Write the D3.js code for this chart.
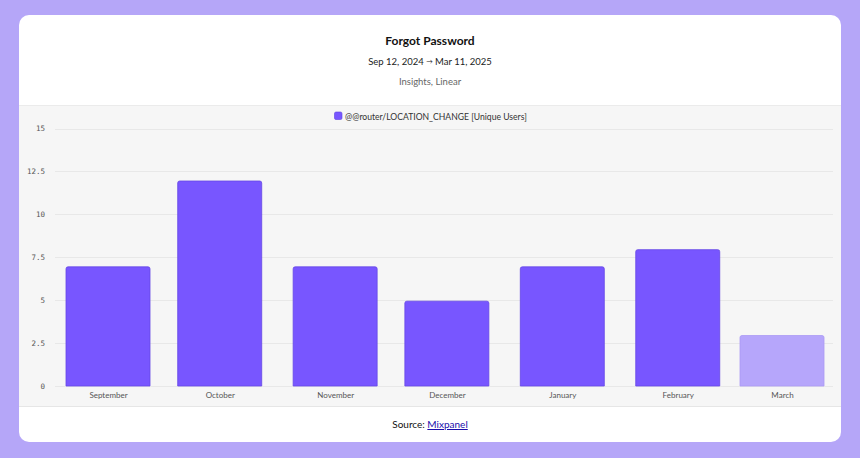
<!DOCTYPE html>
<html><head><meta charset="utf-8">
<script src="https://cdn.jsdelivr.net/npm/d3@7"></script>
<style>
html,body{margin:0;padding:0;background:#b5a6f8;}
svg{display:block;}
</style></head>
<body>
<svg id="chart" width="860" height="458"></svg>
<script>
const categories = ["September","October","November","December","January","February","March"];
const monthStarts = ["2024-09-01","2024-10-01","2024-11-01","2024-12-01","2025-01-01","2025-02-01","2025-03-01"];
const uniqueUsers = [7, 12, 7, 5, 7, 8, 3];
const partial = [false, false, false, false, false, false, true];
const yTicks = [0, 2.5, 5, 7.5, 10, 12.5, 15];
const title = "Forgot Password";
const dateFrom = "Sep 12, 2024";
const dateTo = "Mar 11, 2025";
const subtitle = "Insights, Linear";
const seriesName = "@@router/LOCATION_CHANGE [Unique Users]";

const svg = d3.select("#chart");
const W = 860, H = 458;
svg.append("rect").attr("width", W).attr("height", H).attr("fill", "#b5a6f8");

// card
const card = {x: 19, y: 15, w: 822, h: 427};
svg.append("rect").attr("x", card.x).attr("y", card.y).attr("width", card.w).attr("height", card.h)
  .attr("rx", 10).attr("fill", "#ffffff");
// plot band
svg.append("rect").attr("x", card.x).attr("y", 105).attr("width", card.w).attr("height", 302).attr("fill", "#f6f6f6");
svg.append("line").attr("x1", card.x).attr("x2", card.x + card.w).attr("y1", 105.5).attr("y2", 105.5).attr("stroke", "#ebebeb");
svg.append("line").attr("x1", card.x).attr("x2", card.x + card.w).attr("y1", 406.5).attr("y2", 406.5).attr("stroke", "#e6e6e6");

const font = "Lato, 'Noto Sans', sans-serif";
svg.append("text").attr("x", 430).attr("y", 44.5).attr("text-anchor", "middle")
  .attr("font-family", font).attr("font-size", 12).attr("font-weight", 700).attr("fill", "#111").text(title);
const dr = svg.append("text").attr("x", 430).attr("y", 64.5).attr("text-anchor", "middle")
  .attr("font-family", font).attr("font-size", 9.5).attr("fill", "#222");
dr.append("tspan").text(dateFrom + " ");
dr.append("tspan").attr("font-size", 6.5).attr("dy", -0.5).text("\u2192");
dr.append("tspan").attr("dy", 0.5).text(" " + dateTo);
svg.append("text").attr("x", 430).attr("y", 84.5).attr("text-anchor", "middle")
  .attr("font-family", font).attr("font-size", 9.5).attr("fill", "#666").text(subtitle);

// legend
const leg = svg.append("g");
leg.append("text").attr("x", 345).attr("y", 119.5)
  .attr("font-family", font).attr("font-size", 8.6).attr("fill", "#333").text(seriesName);
leg.append("rect").attr("x", 334.5).attr("y", 112).attr("width", 7.5).attr("height", 7.5).attr("rx", 1.5)
  .attr("fill", "#7856ff").attr("stroke", "#5b3fe0").attr("stroke-width", 0.6);

// scales
const parse = d3.timeParse("%Y-%m-%d");
const dates = monthStarts.map(parse);
const x = d3.scaleTime().domain([dates[0], dates[dates.length - 1]]).range([108, 782]);
const y = d3.scaleLinear().domain([0, 15]).range([386, 128.5]);
const barW = 84;

// grid
svg.append("g").selectAll("line").data(yTicks).join("line")
  .attr("x1", 55).attr("x2", 833)
  .attr("y1", d => Math.round(y(d)) + 0.5).attr("y2", d => Math.round(y(d)) + 0.5)
  .attr("stroke", "#e8e8e8").attr("stroke-width", 1);

// y axis labels
const yAxis = d3.axisLeft(y).tickValues(yTicks).tickSize(0).tickPadding(0).tickFormat(d => String(d));
const yg = svg.append("g").attr("transform", "translate(45,0)").call(yAxis);
yg.select(".domain").remove();
yg.selectAll("text").attr("font-family", "'DejaVu Sans Mono', monospace").attr("font-size", 7.5).attr("fill", "#555").attr("dy", "0.32em");

// bars
const data = categories.map((c, i) => ({c, d: dates[i], v: uniqueUsers[i], p: partial[i]}));
const topR = 2;
function barPath(d) {
  const x0 = x(d.d) - barW / 2, x1 = x0 + barW, y0 = y(d.v) + 1, yb = y(0);
  return `M${x0},${yb}V${y0 + topR}Q${x0},${y0} ${x0 + topR},${y0}H${x1 - topR}Q${x1},${y0} ${x1},${y0 + topR}V${yb}Z`;
}
svg.append("g").selectAll("path").data(data).join("path")
  .attr("d", barPath)
  .attr("fill", d => d.p ? "#b6a6fb" : "#7856ff")
  .attr("stroke", d => d.p ? "#ab9af5" : "#6546e6")
  .attr("stroke-width", 0.8);

// x axis labels
const xAxis = d3.axisBottom(x).tickValues(dates).tickSize(0).tickPadding(0)
  .tickFormat((d, i) => categories[i]);
const xg = svg.append("g").attr("transform", "translate(0,392)").call(xAxis);
xg.select(".domain").remove();
xg.selectAll("text").attr("font-family", font).attr("font-size", 8).attr("fill", "#555").attr("dy", "0.71em");

// footer
const foot = svg.append("text").attr("x", 430).attr("y", 428).attr("text-anchor", "middle")
  .attr("font-family", font).attr("font-size", 10).attr("fill", "#111");
foot.append("tspan").text("Source: ");
foot.append("tspan").attr("fill", "#1a0dab").attr("text-decoration", "underline").text("Mixpanel");
</script>
</body></html>
